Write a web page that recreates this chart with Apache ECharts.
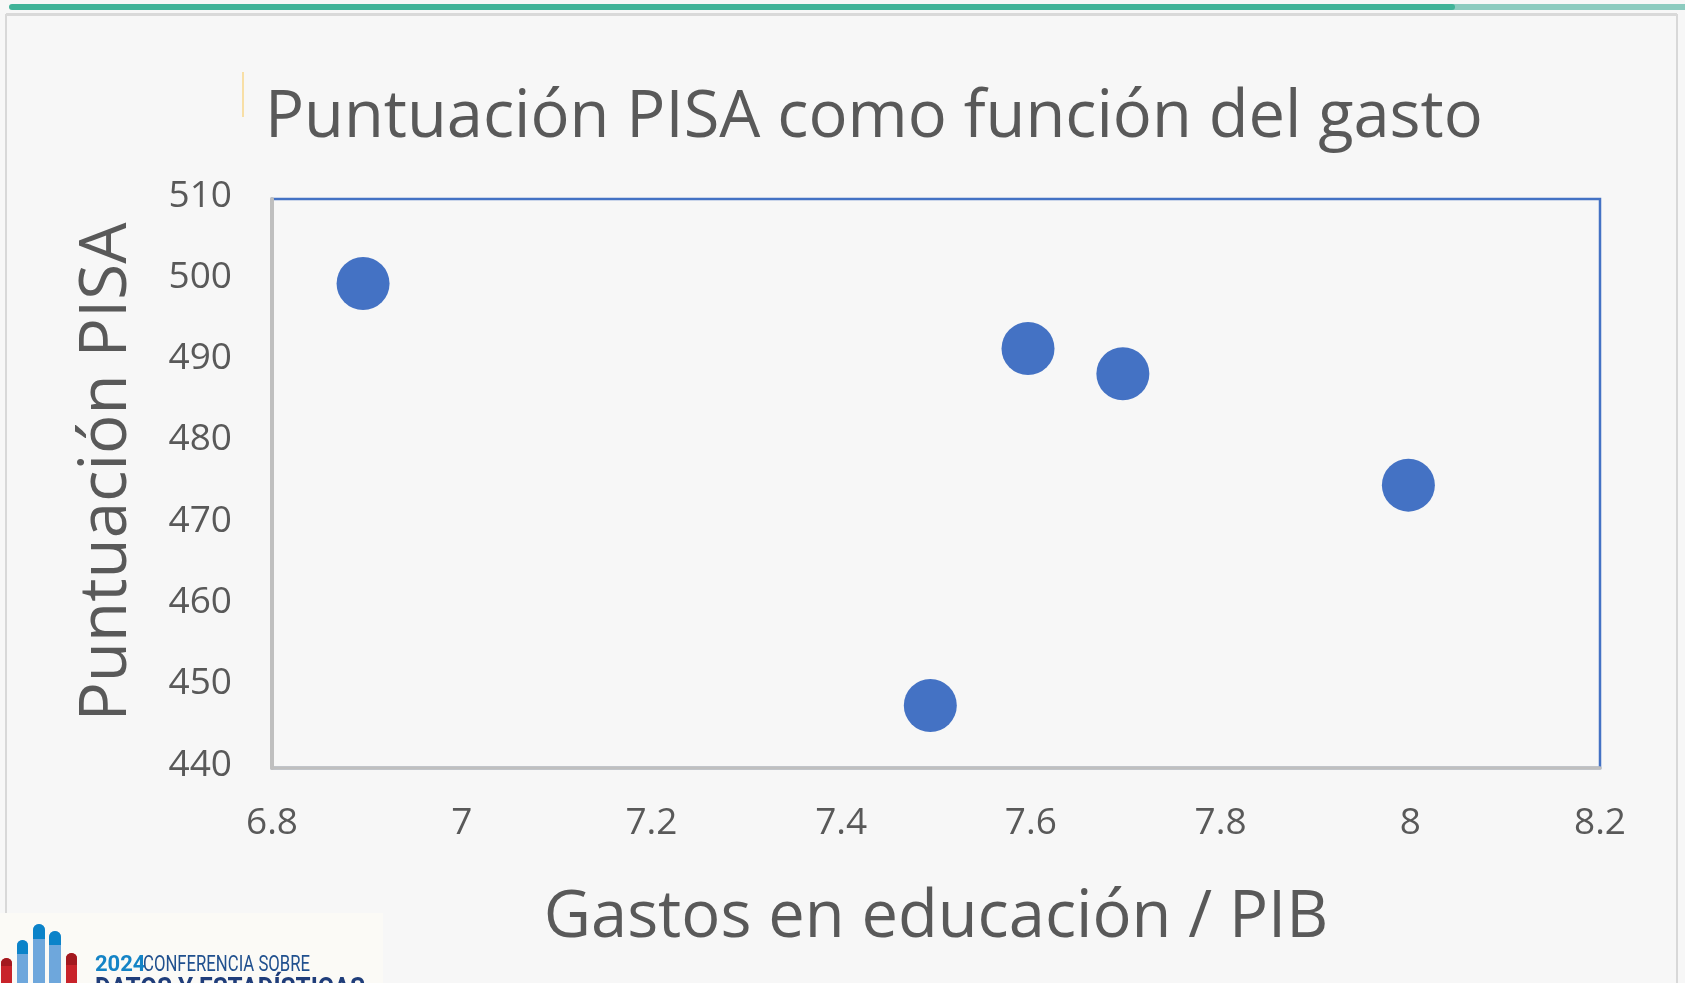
<!DOCTYPE html>
<html>
<head>
<meta charset="utf-8">
<script src="https://cdn.jsdelivr.net/npm/echarts@6/dist/echarts.min.js"></script>
<style>
  html, body { margin: 0; padding: 0; background: #f7f7f7; }
  #chart { width: 1685px; height: 983px; }
</style>
</head>
<body>
<div id="chart"></div>
<script>
// ---- data ----
const gastoEducacion = [6.896, 7.597, 7.697, 7.998, 7.494];
const puntuacionPISA = [499.6, 491.6, 488.5, 474.8, 447.7];
const xTicks = [6.8, 7, 7.2, 7.4, 7.6, 7.8, 8, 8.2];
const yTicks = [440, 450, 460, 470, 480, 490, 500, 510];
const titleText = 'Puntuación PISA como función del gasto';
const xName = 'Gastos en educación / PIB';
const yName = 'Puntuación PISA';

const points = gastoEducacion.map((x, i) => [x, puntuacionPISA[i]]);

const chart = echarts.init(document.getElementById('chart'), null, { renderer: 'canvas' });

const textColor = '#595959';
const font = '"Open Sans", "Noto Sans", sans-serif';

chart.setOption({
  backgroundColor: '#f7f7f7',
  animation: false,
  grid: {
    left: 272, top: 199, right: 85, bottom: 215,
    show: true, borderColor: '#4472c4', borderWidth: 2.5, backgroundColor: 'transparent'
  },
  xAxis: {
    type: 'value',
    min: xTicks[0], max: xTicks[xTicks.length - 1], interval: 0.2,
    axisLine: { show: true, onZero: false, lineStyle: { color: '#bfbfbf', width: 3.5 } },
    axisTick: { show: false },
    splitLine: { show: false },
    axisLabel: { margin: 37, fontSize: 37, color: textColor, fontFamily: font }
  },
  yAxis: {
    type: 'value',
    min: yTicks[0], max: yTicks[yTicks.length - 1], interval: 10,
    axisLine: { show: true, onZero: false, lineStyle: { color: '#bfbfbf', width: 4 } },
    axisTick: { show: false },
    splitLine: { show: false },
    axisLabel: { margin: 40, fontSize: 37, color: textColor, fontFamily: font, verticalAlign: 'bottom', lineHeight: 6 }
  },
  series: [{
    type: 'scatter',
    data: points,
    symbolSize: 53,
    itemStyle: { color: '#4472c4', opacity: 1 }
  }],
  graphic: [
    // slide frame
    { type: 'rect', z: 0, shape: { x: 6, y: 15, width: 1671, height: 1000 },
      style: { fill: 'none', stroke: '#d8d8d8', lineWidth: 2 } },
    { type: 'rect', z: 0, shape: { x: 6, y: 13, width: 1671, height: 3 },
      style: { fill: '#d9d9d9' } },
    // top progress bar
    { type: 'rect', shape: { x: 1440, y: 4, width: 245, height: 6 }, style: { fill: '#8ccbbf' } },
    { type: 'rect', shape: { x: 9, y: 4, width: 1446, height: 6, r: 3 }, style: { fill: '#40b398' } },
    // title accent line
    { type: 'rect', shape: { x: 242, y: 72, width: 2, height: 45 }, style: { fill: '#f8dfa6' } },
    // title
    { type: 'text', x: 265, y: 118,
      style: { text: titleText, fontSize: 65, fontFamily: font, fill: textColor, align: 'left', verticalAlign: 'middle' } },
    // x axis name
    { type: 'text', x: 936, y: 918,
      style: { text: xName, fontSize: 65, fontFamily: font, fill: textColor, align: 'center', verticalAlign: 'middle' } },
    // y axis name
    { type: 'text', x: 107, y: 472, rotation: Math.PI / 2,
      style: { text: yName, fontSize: 65.5, fontFamily: font, fill: textColor, align: 'center', verticalAlign: 'middle' } },
    // logo
    { type: 'rect', shape: { x: 0, y: 913, width: 383, height: 70 }, style: { fill: '#fbfaf6' } },
    { type: 'rect', shape: { x: 1, y: 958, width: 11, height: 40, r: [5.5, 5.5, 0, 0] }, style: { fill: '#c8232a' } },
    { type: 'rect', shape: { x: 1, y: 958, width: 11, height: 8, r: [5.5, 5.5, 0, 0] }, style: { fill: '#a3191f' } },
    { type: 'rect', shape: { x: 17, y: 940, width: 11, height: 50, r: [5.5, 5.5, 0, 0] }, style: { fill: '#6ea7dc' } },
    { type: 'rect', shape: { x: 17, y: 940, width: 11, height: 14, r: [5.5, 5.5, 0, 0] }, style: { fill: '#0b83c9' } },
    { type: 'rect', shape: { x: 33, y: 924, width: 12, height: 70, r: [6, 6, 0, 0] }, style: { fill: '#6ea7dc' } },
    { type: 'rect', shape: { x: 33, y: 924, width: 12, height: 15, r: [6, 6, 0, 0] }, style: { fill: '#0b83c9' } },
    { type: 'rect', shape: { x: 49, y: 931, width: 12, height: 60, r: [6, 6, 0, 0] }, style: { fill: '#6ea7dc' } },
    { type: 'rect', shape: { x: 49, y: 931, width: 12, height: 14, r: [6, 6, 0, 0] }, style: { fill: '#0b83c9' } },
    { type: 'rect', shape: { x: 66, y: 953, width: 11, height: 40, r: [5.5, 5.5, 0, 0] }, style: { fill: '#c8232a' } },
    { type: 'rect', shape: { x: 66, y: 953, width: 11, height: 12, r: [5.5, 5.5, 0, 0] }, style: { fill: '#a3191f' } },
    { type: 'text', x: 95, y: 965,
      style: { text: '2024', fontSize: 22, fontWeight: 'bold', fontFamily: 'Roboto, sans-serif', fill: '#1584c6', align: 'left', verticalAlign: 'middle' } },
    { type: 'text', x: 143, y: 965, scaleX: 0.76,
      style: { text: 'CONFERENCIA SOBRE', fontSize: 22, fontFamily: 'Roboto, sans-serif', fill: '#20508e', align: 'left', verticalAlign: 'middle' } },
    { type: 'text', x: 95, y: 990, scaleX: 0.9,
      style: { text: 'DATOS Y ESTADÍSTICAS', fontSize: 27, fontWeight: 'bold', fontFamily: 'Roboto, sans-serif', fill: '#1f3d7a', align: 'left', verticalAlign: 'middle' } }
  ]
});
</script>
</body>
</html>
